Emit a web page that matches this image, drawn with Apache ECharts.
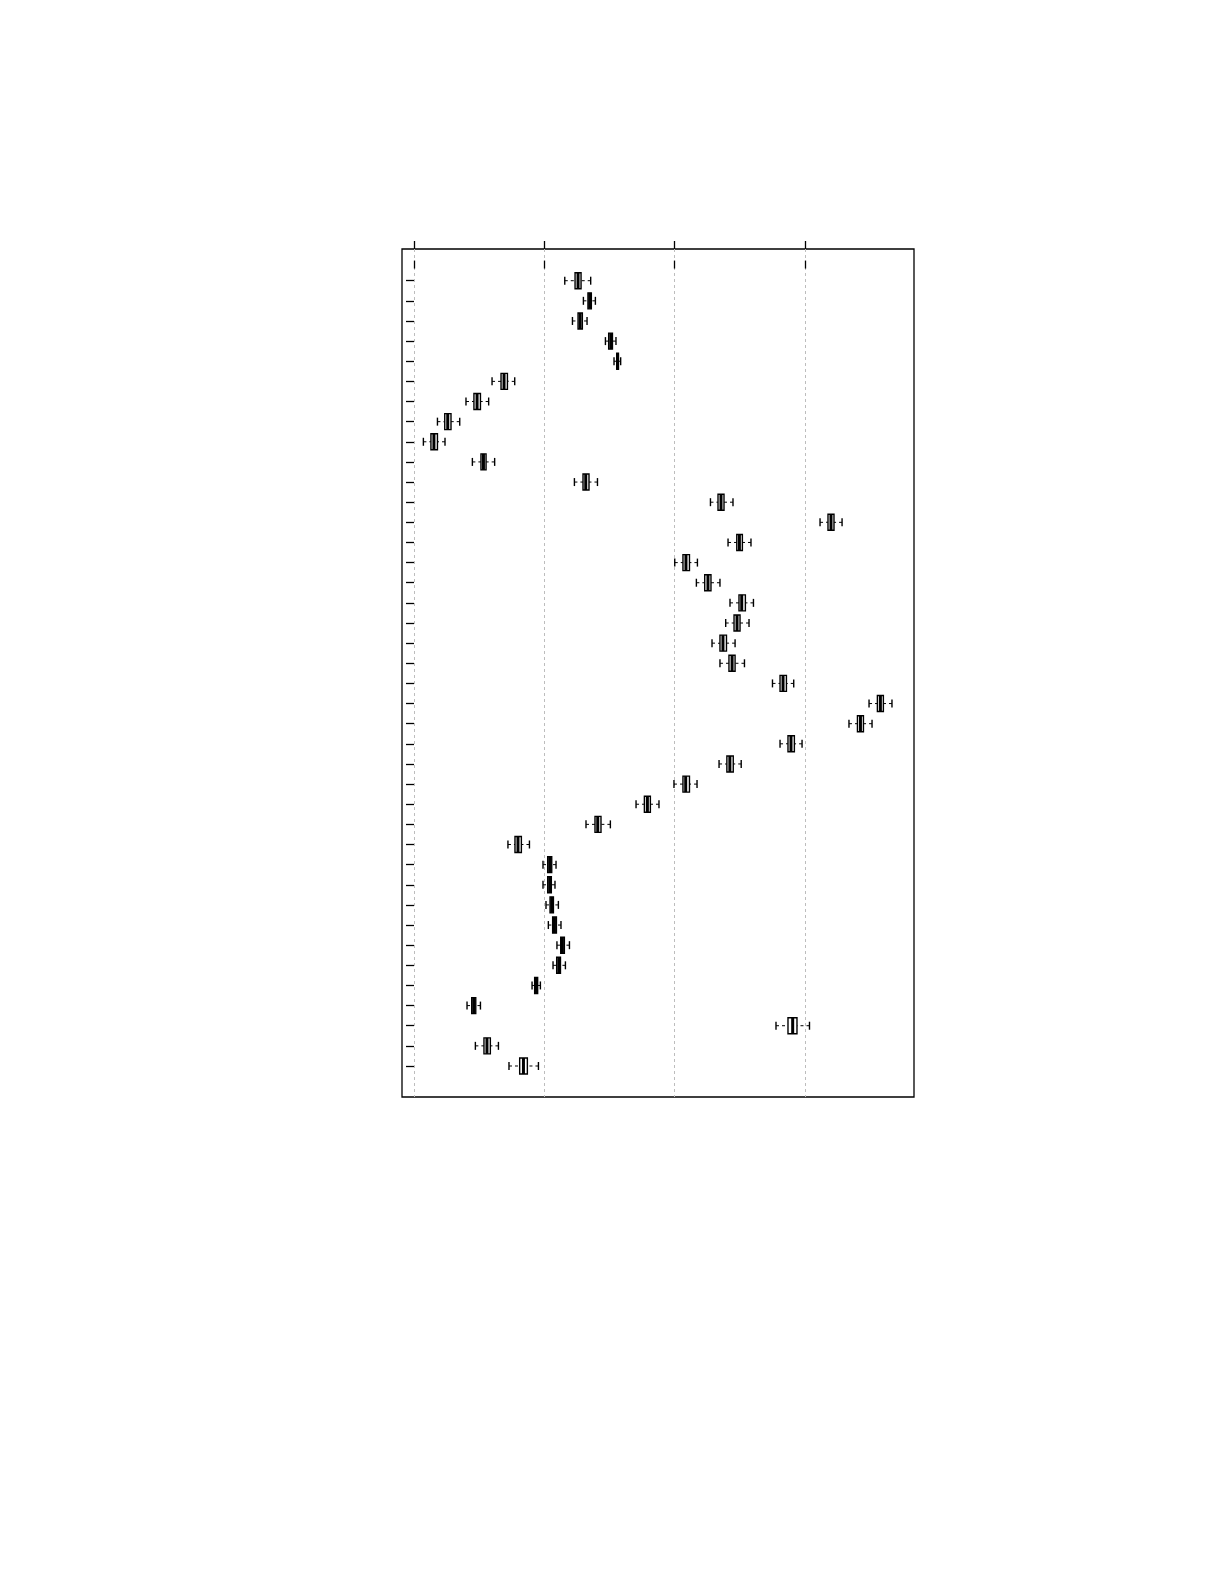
<!DOCTYPE html>
<html>
<head>
<meta charset="utf-8">
<script src="https://cdn.jsdelivr.net/npm/echarts@6/dist/echarts.min.js"></script>
<style>
  html, body { margin: 0; padding: 0; background: #fff; }
  #chart { width: 1225px; height: 1585px; }
</style>
</head>
<body>
<div id="chart"></div>
<script>
// box statistics, one entry per row (top to bottom)
const lowWhisker = [11.57, 13.00, 12.16, 14.69, 15.35, 5.99, 3.99, 1.80, 0.72, 4.48,
    12.31, 22.75, 31.16, 24.10, 20.01, 21.67, 24.25, 23.92, 22.87, 23.48,
    27.51, 34.92, 33.38, 28.09, 23.41, 19.95, 17.04, 13.20, 7.21, 9.90,
    9.90, 10.13, 10.31, 10.97, 10.67, 9.06, 4.07, 27.78, 4.71, 7.29];
const lowerQuartile = [12.36, 13.35, 12.59, 14.94, 15.56, 6.68, 4.60, 2.36, 1.30, 5.14,
    12.97, 23.33, 31.77, 24.77, 20.64, 22.31, 24.94, 24.56, 23.48, 24.17,
    28.09, 35.56, 34.03, 28.70, 24.01, 20.64, 17.68, 13.89, 7.75, 10.26,
    10.26, 10.44, 10.64, 11.26, 10.95, 9.26, 4.43, 28.70, 5.37, 8.11];
const median = [12.59, 13.48, 12.75, 15.10, 15.62, 6.91, 4.84, 2.59, 1.53, 5.33,
    13.18, 23.56, 32.00, 24.97, 20.87, 22.56, 25.15, 24.79, 23.71, 24.41,
    28.32, 35.79, 34.26, 28.93, 24.24, 20.85, 17.91, 14.10, 7.98, 10.41,
    10.41, 10.57, 10.78, 11.39, 11.11, 9.38, 4.58, 29.06, 5.60, 8.40];
const upperQuartile = [12.82, 13.61, 12.92, 15.23, 15.69, 7.17, 5.10, 2.84, 1.80, 5.53,
    13.43, 23.79, 32.23, 25.20, 21.14, 22.79, 25.43, 25.02, 23.98, 24.64,
    28.58, 36.02, 34.49, 29.19, 24.50, 21.14, 18.14, 14.35, 8.24, 10.57,
    10.54, 10.70, 10.93, 11.54, 11.24, 9.49, 4.74, 29.39, 5.86, 8.70];
const highWhisker = [13.56, 13.92, 13.28, 15.50, 15.86, 7.73, 5.73, 3.51, 2.38, 6.19,
    14.08, 24.48, 32.85, 25.86, 21.75, 23.48, 26.05, 25.71, 24.64, 25.36,
    29.14, 36.68, 35.15, 29.78, 25.11, 21.72, 18.80, 15.07, 8.86, 10.90,
    10.82, 11.08, 11.28, 11.93, 11.62, 9.70, 5.10, 30.35, 6.48, 9.55];

const xTicks = [0, 10, 20, 30];
const rowIds = lowWhisker.map((v, i) => i + 1);

const data = rowIds.map((r, i) => [r, lowWhisker[i], lowerQuartile[i], median[i], upperQuartile[i], highWhisker[i]]);

const chart = echarts.init(document.getElementById('chart'));

const BOX_H = 16;
const CAP_H = 8;

function renderBox(params, api) {
    const row = api.value(0);
    const pLow = api.coord([api.value(1), row]);
    const pQ1 = api.coord([api.value(2), row]);
    const pMed = api.coord([api.value(3), row]);
    const pQ3 = api.coord([api.value(4), row]);
    const pHigh = api.coord([api.value(5), row]);
    const y = pMed[1];
    const dash = { stroke: '#000', lineWidth: 1, lineDash: [3, 3] };
    const solid = { stroke: '#000', lineWidth: 1.4 };
    return {
        type: 'group',
        children: [
            // dashed whiskers run from the caps towards the box
            { type: 'line', shape: { x1: pLow[0], y1: y, x2: pQ1[0], y2: y }, style: dash },
            { type: 'line', shape: { x1: pHigh[0], y1: y, x2: pQ3[0], y2: y }, style: dash },
            { type: 'line', shape: { x1: pLow[0], y1: y - CAP_H / 2, x2: pLow[0], y2: y + CAP_H / 2 }, style: solid },
            { type: 'line', shape: { x1: pHigh[0], y1: y - CAP_H / 2, x2: pHigh[0], y2: y + CAP_H / 2 }, style: solid },
            { type: 'rect', shape: { x: pQ1[0], y: y - BOX_H / 2, width: pQ3[0] - pQ1[0], height: BOX_H },
              style: { fill: '#fff', stroke: '#000', lineWidth: 1.4 } },
            { type: 'line', shape: { x1: pMed[0], y1: y - BOX_H / 2, x2: pMed[0], y2: y + BOX_H / 2 },
              style: { stroke: '#000', lineWidth: 3 } }
        ]
    };
}

const xAxisBase = {
    type: 'value',
    min: -0.92,
    max: 38.37,
    axisLine: { show: false },
    axisLabel: { show: false },
    axisTick: {
        show: true,
        inside: false,
        length: 8,
        customValues: xTicks,
        lineStyle: { color: '#000', width: 1.3 }
    }
};

let option = {
    animation: false,
    backgroundColor: '#fff',
    grid: {
        left: 402,
        top: 249,
        width: 512,
        height: 848,
        show: true,
        borderColor: '#000',
        borderWidth: 1.3,
        backgroundColor: 'transparent'
    },
    xAxis: [
        Object.assign({}, xAxisBase, {
            position: 'bottom',
            splitLine: {
                show: true,
                lineStyle: { color: '#bdbdbd', type: [3, 3], width: 1 }
            }
        }),
        Object.assign({}, xAxisBase, {
            position: 'top',
            splitLine: { show: false }
        })
    ],
    yAxis: {
        type: 'value',
        inverse: true,
        min: -0.574,
        max: 41.54,
        axisLine: { show: false },
        axisLabel: { show: false },
        splitLine: { show: false },
        axisTick: {
            show: true,
            inside: false,
            length: 8,
            customValues: rowIds,
            lineStyle: { color: '#000', width: 1.3 }
        }
    },
    series: [{
        type: 'custom',
        xAxisIndex: 0,
        yAxisIndex: 0,
        renderItem: renderBox,
        encode: { x: [1, 2, 3, 4, 5], y: 0 },
        data: data,
        clip: false
    }]
};

chart.setOption(option);
</script>
</body>
</html>
